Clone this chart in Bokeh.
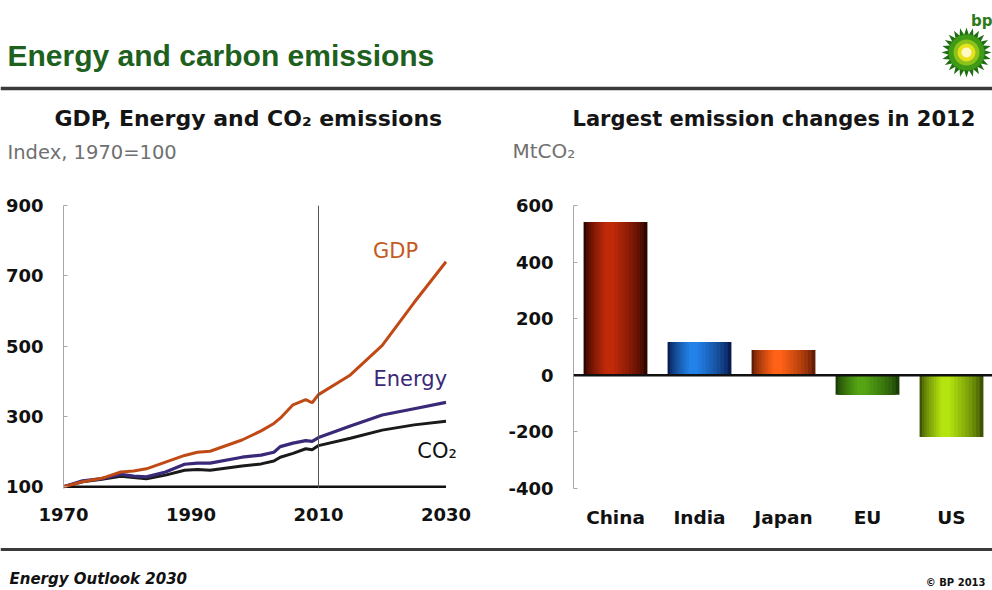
import numpy as np
from bokeh.plotting import figure
from bokeh.models import Range1d, FixedTicker, Span, Label, ColumnDataSource
from bokeh.layouts import column, row
from bokeh.embed import file_html
from bokeh.resources import INLINE

# ---------------- data ----------------
years = [1970, 1973, 1976, 1979, 1981, 1983, 1986, 1989, 1991, 1993, 1998,
         2001, 2003, 2004, 2006, 2008, 2009, 2010, 2015, 2020, 2025, 2030]
gdp = [100, 114, 124, 142, 145, 151, 170, 189, 198, 201, 233,
       259, 280, 295, 333, 348, 339, 362, 418, 502, 624, 740]
energy = [100, 117, 123, 135, 130, 128, 142, 164, 167, 167, 184,
          190, 198, 214, 224, 231, 229, 240, 273, 304, 322, 340]
co2 = [100, 114, 121, 130, 126, 123, 133, 147, 149, 147, 159,
       165, 173, 184, 195, 208, 205, 217, 238, 261, 276, 286]
year_ticks = [1970, 1990, 2010, 2030]
index_ticks = [100, 300, 500, 700, 900]

countries = ["China", "India", "Japan", "EU", "US"]
changes = [542, 118, 89, -69, -218]
mt_ticks = [-400, -200, 0, 200, 400, 600]
mt_tick_labels = ["-400", "-200", "0", "200", "400", "600"]

FONT = "DejaVu Sans"
TITLE_FONT = "Liberation Sans"

def bare(p):
    p.grid.visible = False
    p.outline_line_color = None
    p.background_fill_color = "white"
    p.border_fill_color = "white"

# ---------------- header ----------------
header = figure(width=992, height=185, x_range=Range1d(0, 992), y_range=Range1d(185, 0),
                x_axis_type=None, y_axis_type=None, min_border=0,
                output_backend="svg", toolbar_location=None)
bare(header)
header.add_layout(Label(x=7, y=55, text="Energy and carbon emissions", text_font=TITLE_FONT,
                        text_font_size="30px", text_font_style="bold", text_color="#1e601e",
                        text_baseline="middle"))
header.line(x=[0, 992], y=[88, 88], line_color="#3a3a3a", line_width=3.5)
header.add_layout(Label(x=54, y=118, text="GDP, Energy and CO\u2082 emissions", text_font=FONT,
                        text_font_size="22px", text_font_style="bold", text_color="#151515",
                        text_baseline="middle"))
header.add_layout(Label(x=7, y=152, text="Index, 1970=100", text_font=FONT,
                        text_font_size="19.5px", text_color="#707070", text_baseline="middle"))
header.add_layout(Label(x=572, y=118, text="Largest emission changes in 2012", text_font=FONT,
                        text_font_size="21px", text_font_style="bold", text_color="#151515",
                        text_baseline="middle"))
header.add_layout(Label(x=512, y=150, text="MtCO\u2082", text_font=FONT,
                        text_font_size="20px", text_color="#707070", text_baseline="middle"))
# bp logo
cx, cy = 966, 52
ang = np.linspace(0, 2 * np.pi, 49)[:-1]
rad = np.where(np.arange(48) % 2 == 0, 25, 18)
header.patch(x=cx + rad * np.cos(ang), y=cy + rad * np.sin(ang), fill_color="#1f6e12", line_color=None)
for r, c in [(18, "#3f9a16"), (13, "#8cc21a"), (9, "#e8e21c"), (5, "#fff9c8")]:
    header.circle(x=[cx], y=[cy], radius=r, fill_color=c, line_color=None)
header.add_layout(Label(x=992, y=20, text="bp", text_font=FONT, text_font_size="15px",
                        text_font_style="bold", text_color="#2d7a1a", text_align="right",
                        text_baseline="middle"))

# ---------------- left chart ----------------
left = figure(width=500, height=355, x_range=Range1d(1970, 2034), y_range=Range1d(95, 900),
              min_border_left=63, min_border_right=29, min_border_top=20, min_border_bottom=48,
              output_backend="svg", toolbar_location=None)
bare(left)
left.add_layout(Span(location=2010, dimension="height", line_color="#555555", line_width=1))
left.line([year_ticks[0], year_ticks[-1]], [index_ticks[0], index_ticks[0]],
          line_color="#111111", line_width=2.5)
left.line(years, co2, line_color="#1a1a1a", line_width=3)
left.line(years, energy, line_color="#3a2878", line_width=3.2)
left.line(years, gdp, line_color="#c04a16", line_width=3)
for ax in (left.xaxis[0], left.yaxis[0]):
    ax.major_label_text_font = FONT
    ax.major_label_text_font_style = "bold"
    ax.major_label_text_font_size = "18px"
    ax.major_label_text_color = "#111111"
    ax.minor_tick_line_color = None
    ax.major_tick_out = 0
left.xaxis.ticker = FixedTicker(ticks=year_ticks)
left.yaxis.ticker = FixedTicker(ticks=index_ticks)
left.xaxis.axis_line_color = None
left.xaxis.major_tick_line_color = None
left.xaxis.major_label_standoff = 19
left.yaxis.axis_line_color = "#a8a8a8"
left.yaxis.major_tick_line_color = "#a8a8a8"
left.yaxis.major_tick_in = 4
left.yaxis.major_label_standoff = 20
left.add_layout(Label(x=2022.1, y=771, text="GDP", text_font=FONT, text_font_size="21px",
                      text_color="#c45a1e", text_align="center", text_baseline="middle"))
left.add_layout(Label(x=2024.4, y=406, text="Energy", text_font=FONT, text_font_size="21px",
                      text_color="#3a2878", text_align="center", text_baseline="middle"))
left.add_layout(Label(x=2028.6, y=201, text="CO\u2082", text_font=FONT, text_font_size="21px",
                      text_color="#111111", text_align="center", text_baseline="middle"))

# ---------------- right chart ----------------
right = figure(width=492, height=355, x_range=Range1d(-0.5, 4.488), y_range=Range1d(-400, 600),
               min_border_left=73, min_border_right=0, min_border_top=20, min_border_bottom=52,
               output_backend="svg", toolbar_location=None)
bare(right)
bright = ["#c02a08", "#2282e8", "#ff6216", "#55a414", "#b4e410"]
dark = ["#300500", "#0a1d52", "#641c04", "#1a3e06", "#3e5404"]

def mix(c1, c2, t):
    a = np.array([int(c1[i:i + 2], 16) for i in (1, 3, 5)], dtype=float)
    b = np.array([int(c2[i:i + 2], 16) for i in (1, 3, 5)], dtype=float)
    m = a + (b - a) * t
    return "#%02x%02x%02x" % tuple(int(round(v)) for v in m)

idx = list(range(len(countries)))
n_layers = 10
for k in range(n_layers):
    t = k / (n_layers - 1)
    w = 0.76 * (1 - 0.85 * t)
    src = ColumnDataSource(dict(
        x=[i - 0.07 * t for i in idx],
        top=changes,
        color=[mix(d, b, t ** 0.7) for d, b in zip(dark, bright)],
    ))
    right.vbar(x="x", top="top", bottom=0, width=w, fill_color="color", line_color=None, source=src)
right.add_layout(Span(location=0, dimension="width", line_color="#111111", line_width=2.5))
for ax in (right.xaxis[0], right.yaxis[0]):
    ax.major_label_text_font = FONT
    ax.major_label_text_font_style = "bold"
    ax.major_label_text_font_size = "18px"
    ax.major_label_text_color = "#111111"
    ax.minor_tick_line_color = None
    ax.major_tick_out = 0
right.xaxis.major_label_text_font_size = "18.5px"
right.xaxis.ticker = FixedTicker(ticks=idx)
right.xaxis.major_label_overrides = {i: c for i, c in zip(idx, countries)}
right.xaxis.axis_line_color = None
right.xaxis.major_tick_line_color = None
right.xaxis.major_label_standoff = 18
right.yaxis.ticker = FixedTicker(ticks=mt_ticks)
right.yaxis.major_label_overrides = {v: s for v, s in zip(mt_ticks, mt_tick_labels)}
right.yaxis.axis_line_color = "#a8a8a8"
right.yaxis.major_tick_line_color = "#a8a8a8"
right.yaxis.major_tick_in = 4
right.yaxis.major_label_standoff = 20

# ---------------- footer ----------------
footer = figure(width=992, height=50, x_range=Range1d(0, 992), y_range=Range1d(50, 0),
                x_axis_type=None, y_axis_type=None, min_border=0,
                output_backend="svg", toolbar_location=None)
bare(footer)
footer.line(x=[0, 992], y=[9, 9], line_color="#3a3a3a", line_width=3)
footer.add_layout(Label(x=9, y=38, text="Energy Outlook 2030", text_font=FONT, text_font_size="15px",
                        text_font_style="bold italic", text_color="#111111", text_baseline="middle"))
footer.add_layout(Label(x=985, y=42, text="\u00a9 BP 2013", text_font=FONT, text_font_size="10px",
                        text_font_style="bold", text_color="#111111", text_align="right",
                        text_baseline="middle"))

p = column(header, row(left, right), footer)
open("out.html", "w").write(file_html(p, INLINE))
